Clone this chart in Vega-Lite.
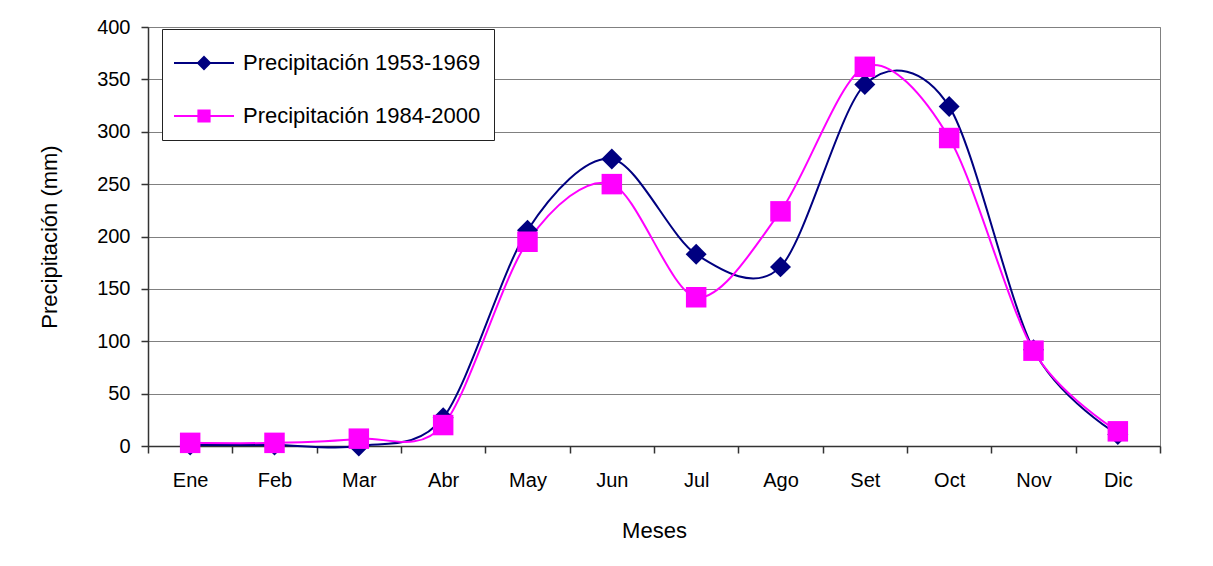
{
  "$schema": "https://vega.github.io/schema/vega-lite/v6.json",
  "width": 1012,
  "height": 419,
  "autosize": {"type": "none"},
  "padding": {"left": 148, "top": 27, "right": 53, "bottom": 120},
  "background": "white",
  "config": {
    "font": "Liberation Sans",
    "view": {"stroke": "#808080", "strokeWidth": 1},
    "axis": {
      "labelFontSize": 20,
      "titleFontSize": 22,
      "labelColor": "#000000",
      "titleColor": "#000000",
      "titleFontWeight": "normal",
      "domainColor": "#333333",
      "tickColor": "#333333",
      "domainWidth": 1.5,
      "tickWidth": 1.5,
      "tickSize": 7
    }
  },
  "data": {
    "values": [
      {"mes": "Ene", "serie": "Precipitación 1953-1969", "valor": 1},
      {"mes": "Feb", "serie": "Precipitación 1953-1969", "valor": 1},
      {"mes": "Mar", "serie": "Precipitación 1953-1969", "valor": 0},
      {"mes": "Abr", "serie": "Precipitación 1953-1969", "valor": 27},
      {"mes": "May", "serie": "Precipitación 1953-1969", "valor": 206},
      {"mes": "Jun", "serie": "Precipitación 1953-1969", "valor": 274},
      {"mes": "Jul", "serie": "Precipitación 1953-1969", "valor": 183},
      {"mes": "Ago", "serie": "Precipitación 1953-1969", "valor": 171},
      {"mes": "Set", "serie": "Precipitación 1953-1969", "valor": 345},
      {"mes": "Oct", "serie": "Precipitación 1953-1969", "valor": 324},
      {"mes": "Nov", "serie": "Precipitación 1953-1969", "valor": 92},
      {"mes": "Dic", "serie": "Precipitación 1953-1969", "valor": 11},
      {"mes": "Ene", "serie": "Precipitación 1984-2000", "valor": 3},
      {"mes": "Feb", "serie": "Precipitación 1984-2000", "valor": 3},
      {"mes": "Mar", "serie": "Precipitación 1984-2000", "valor": 7},
      {"mes": "Abr", "serie": "Precipitación 1984-2000", "valor": 20},
      {"mes": "May", "serie": "Precipitación 1984-2000", "valor": 195},
      {"mes": "Jun", "serie": "Precipitación 1984-2000", "valor": 250},
      {"mes": "Jul", "serie": "Precipitación 1984-2000", "valor": 142},
      {"mes": "Ago", "serie": "Precipitación 1984-2000", "valor": 224},
      {"mes": "Set", "serie": "Precipitación 1984-2000", "valor": 362},
      {"mes": "Oct", "serie": "Precipitación 1984-2000", "valor": 294},
      {"mes": "Nov", "serie": "Precipitación 1984-2000", "valor": 91},
      {"mes": "Dic", "serie": "Precipitación 1984-2000", "valor": 14}
    ]
  },
  "encoding": {
    "x": {
      "field": "mes",
      "type": "ordinal",
      "sort": ["Ene", "Feb", "Mar", "Abr", "May", "Jun", "Jul", "Ago", "Set", "Oct", "Nov", "Dic"],
      "scale": {"type": "band", "paddingInner": 0, "paddingOuter": 0},
      "axis": {
        "title": "Meses",
        "labelAngle": 0,
        "tickBand": "extent",
        "labelPadding": 17,
        "titlePadding": 30,
        "grid": false
      }
    },
    "y": {
      "field": "valor",
      "type": "quantitative",
      "scale": {"domain": [0, 400], "nice": false},
      "axis": {
        "title": "Precipitación (mm)",
        "values": [0, 50, 100, 150, 200, 250, 300, 350, 400],
        "labelPadding": 11,
        "titlePadding": 35,
        "grid": true,
        "gridColor": "#808080",
        "gridWidth": 1.2
      }
    },
    "color": {
      "field": "serie",
      "type": "nominal",
      "scale": {
        "domain": ["Precipitación 1953-1969", "Precipitación 1984-2000"],
        "range": ["#000080", "#FF00FF"]
      },
      "legend": {
        "title": null,
        "orient": "none",
        "legendX": 14,
        "legendY": 2,
        "padding": 13,
        "fillColor": "#FFFFFF",
        "strokeColor": "#222222",
        "labelFontSize": 22,
        "labelColor": "#000000",
        "labelLimit": 400,
        "labelOffset": 26,
        "rowPadding": 21,
        "symbolSize": 1600,
        "symbolStrokeWidth": 2,
        "symbolOpacity": 1,
        "encode": {
          "symbols": {
            "update": {
              "shape": {"signal": "datum.value === 'Precipitación 1953-1969' ? 'M-1.1,0H1.9M0.4,-0.3L0.7,0L0.4,0.3L0.1,0Z' : 'M-1.1,0H1.9M0.12,-0.28H0.68V0.28H0.12Z'"}
            }
          }
        }
      }
    }
  },
  "layer": [
    {
      "mark": {"type": "line", "interpolate": "cardinal", "tension": 0.1, "strokeWidth": 2}
    },
    {
      "transform": [{"filter": "datum.serie === 'Precipitación 1953-1969'"}],
      "mark": {"type": "point", "filled": true, "opacity": 1, "size": 440, "shape": "diamond"}
    },
    {
      "transform": [{"filter": "datum.serie === 'Precipitación 1984-2000'"}],
      "mark": {"type": "point", "filled": true, "opacity": 1, "size": 420, "shape": "square"}
    }
  ]
}
